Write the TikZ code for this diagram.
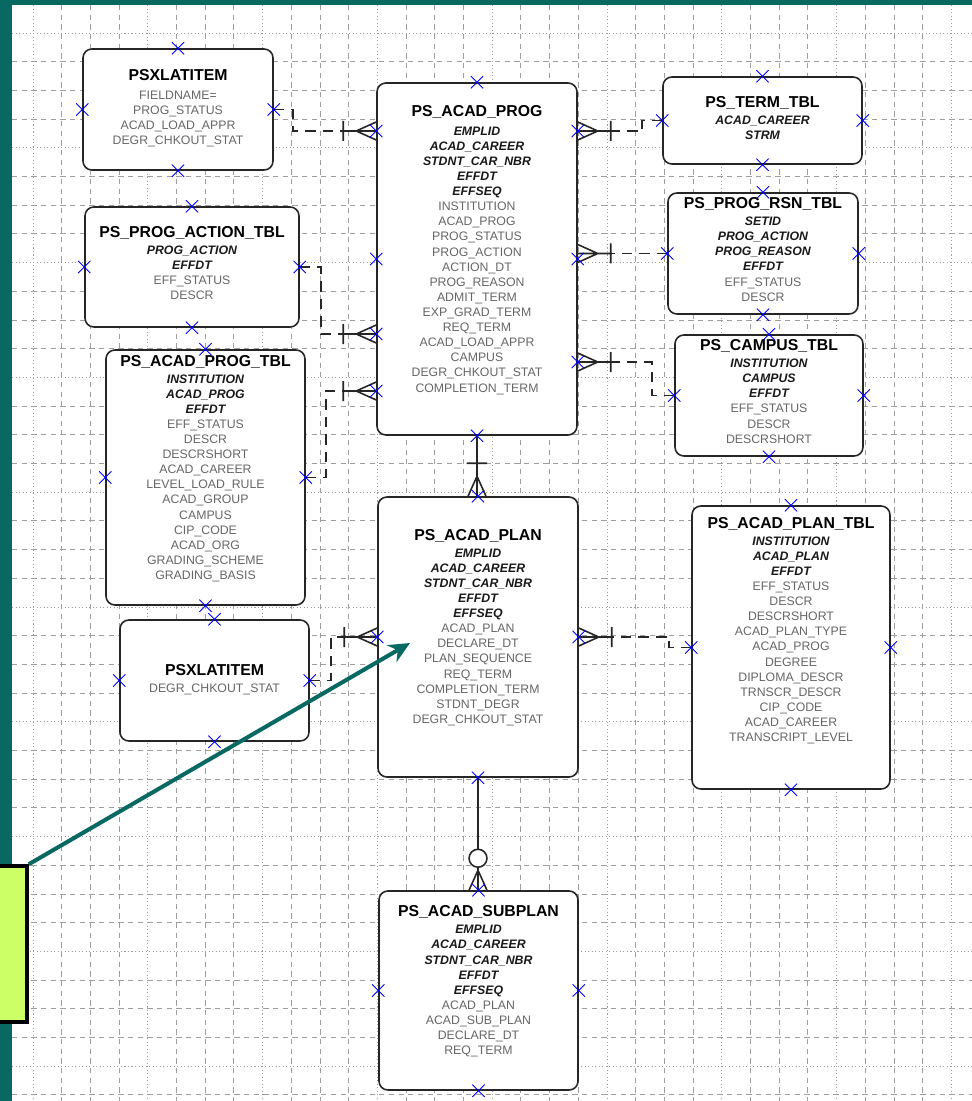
\documentclass[tikz,border=0pt]{standalone}
\usepackage{fontspec}
\setmainfont{Liberation Sans}
\usetikzlibrary{shapes.misc,arrows.meta,decorations.markings}
\definecolor{slide}{RGB}{8,104,98}
\definecolor{notefill}{RGB}{204,255,102}
\newcommand{\kf}[1]{{\bfseries\itshape\color{black!90}#1}}
\newcommand{\ttl}[1]{{\fontsize{9}{10}\selectfont\bfseries\color{black}#1}}

\begin{document}
\begin{tikzpicture}[x=0.02cm, y=-0.02cm]
      \tikzstyle{entity} = [rectangle, rounded corners=5pt, draw=black!85, line width=0.9pt, fill=white, inner sep=0pt, text=black!60, font=\fontsize{7}{8.6}\selectfont]
      \tikzstyle{xmark} = [cross out, draw=blue, line width=0.5pt, minimum size=6.5pt, inner sep=0pt]
      \tikzstyle{dashgrid} = [draw=black!38, line width=0.5pt, dash pattern=on 3pt off 2.5pt]
      \tikzstyle{dotgrid} = [draw=black!38, line width=0.5pt, dash pattern=on 0.6pt off 1.4pt]
      \tikzstyle{rel} = [draw=black!85, line width=0.9pt, dash pattern=on 6pt off 4pt]
      \tikzstyle{idrel} = [draw=black!85, line width=0.9pt]
      \tikzstyle{many} = [postaction={decorate, decoration={markings, mark=at position 1 with {
          \draw[solid, line width=0.9pt] (-33,-10) -- (-33,10) (-34,0) -- (0,0) (-20,0) -- (0,-9) (-20,0) -- (0,9);}}}]
      \tikzstyle{zeromany} = [postaction={decorate, decoration={markings, mark=at position 1 with {
          \draw[solid, line width=0.9pt, fill=white] (-32,0) circle (5.1pt);
          \draw[solid, line width=0.9pt] (-23,0) -- (0,0) (-20,0) -- (0,-9) (-20,0) -- (0,9);}}}]
      \tikzstyle{pointer} = [draw=slide, line width=2.3pt, -{Stealth[length=12pt, width=11pt]}]

      \useasboundingbox (0,0) rectangle (972,1101);
      \fill[slide] (0,0) rectangle (972,1101);
      \fill[white] (12,5) rectangle (972,1101);

      % grid
      \foreach \k in {0,...,32} {
        \pgfmathtruncatemacro{\m}{mod(\k,4)}
        \ifnum\m=0 \draw[dotgrid] (33+28.7*\k,5) -- (33+28.7*\k,1101);
        \else \draw[dashgrid] (33+28.7*\k,5) -- (33+28.7*\k,1101); \fi
      }
      \foreach \k in {0,...,37} {
        \pgfmathtruncatemacro{\m}{mod(\k,4)}
        \ifnum\m=0 \draw[dotgrid] (12,33+28.7*\k) -- (972,33+28.7*\k);
        \else \draw[dashgrid] (12,33+28.7*\k) -- (972,33+28.7*\k); \fi
      }

      \node (xlat1) [entity, minimum width=3.8cm, minimum height=2.42cm] at (178, 109.5) {\begin{tabular}{@{}c@{}}
        \ttl{PSXLATITEM}\\[2pt] FIELDNAME=\\ PROG\_STATUS\\ ACAD\_LOAD\_APPR\\ DEGR\_CHKOUT\_STAT
      \end{tabular}};
      \node (pat) [entity, minimum width=4.28cm, minimum height=2.4cm] at (192, 267) {\begin{tabular}{@{}c@{}}
        \ttl{PS\_PROG\_ACTION\_TBL}\\[1pt] \kf{PROG\_ACTION}\\ \kf{EFFDT}\\ EFF\_STATUS\\ DESCR\\[2pt]
      \end{tabular}};
      \node (aptbl) [entity, minimum width=3.98cm, minimum height=5.1cm] at (205.5, 477.5) {\begin{tabular}{@{}c@{}}
        \ttl{PS\_ACAD\_PROG\_TBL}\\[1pt] \kf{INSTITUTION}\\ \kf{ACAD\_PROG}\\ \kf{EFFDT}\\ EFF\_STATUS\\ DESCR\\
        DESCRSHORT\\ ACAD\_CAREER\\ LEVEL\_LOAD\_RULE\\ ACAD\_GROUP\\ CAMPUS\\ CIP\_CODE\\ ACAD\_ORG\\
        GRADING\_SCHEME\\ GRADING\_BASIS\\[9pt]
      \end{tabular}};
      \node (xlat2) [entity, minimum width=3.78cm, minimum height=2.42cm] at (214.5, 680.5) {\begin{tabular}{@{}c@{}}
        \ttl{PSXLATITEM}\\[1pt] DEGR\_CHKOUT\_STAT
      \end{tabular}};
      \node (prog) [entity, minimum width=4cm, minimum height=7.04cm] at (477, 259) {\begin{tabular}{@{}c@{}}
        \ttl{PS\_ACAD\_PROG}\\[2pt] \kf{EMPLID}\\ \kf{ACAD\_CAREER}\\ \kf{STDNT\_CAR\_NBR}\\ \kf{EFFDT}\\ \kf{EFFSEQ}\\
        INSTITUTION\\ ACAD\_PROG\\ PROG\_STATUS\\ PROG\_ACTION\\ ACTION\_DT\\ PROG\_REASON\\ ADMIT\_TERM\\
        EXP\_GRAD\_TERM\\ REQ\_TERM\\ ACAD\_LOAD\_APPR\\ CAMPUS\\ DEGR\_CHKOUT\_STAT\\ COMPLETION\_TERM\\[9pt]
      \end{tabular}};
      \node (term) [entity, minimum width=3.98cm, minimum height=1.74cm] at (762.5, 120.5) {\begin{tabular}{@{}c@{}}
        \ttl{PS\_TERM\_TBL}\\[1pt] \kf{ACAD\_CAREER}\\ \kf{STRM}
      \end{tabular}};
      \node (rsn) [entity, minimum width=3.8cm, minimum height=2.42cm] at (763, 253.5) {\begin{tabular}{@{}c@{}}
        \ttl{PS\_PROG\_RSN\_TBL}\\[1pt] \kf{SETID}\\ \kf{PROG\_ACTION}\\ \kf{PROG\_REASON}\\ \kf{EFFDT}\\ EFF\_STATUS\\ DESCR\\[2pt]
      \end{tabular}};
      \node (campus) [entity, minimum width=3.76cm, minimum height=2.42cm] at (769, 395.5) {\begin{tabular}{@{}c@{}}
        \ttl{PS\_CAMPUS\_TBL}\\[1pt] \kf{INSTITUTION}\\ \kf{CAMPUS}\\ \kf{EFFDT}\\ EFF\_STATUS\\ DESCR\\ DESCRSHORT\\[2pt]
      \end{tabular}};
      \node (plan) [entity, minimum width=4cm, minimum height=5.6cm] at (478, 637) {\begin{tabular}{@{}c@{}}
        \ttl{PS\_ACAD\_PLAN}\\[1pt] \kf{EMPLID}\\ \kf{ACAD\_CAREER}\\ \kf{STDNT\_CAR\_NBR}\\ \kf{EFFDT}\\ \kf{EFFSEQ}\\
        ACAD\_PLAN\\ DECLARE\_DT\\ PLAN\_SEQUENCE\\ REQ\_TERM\\ COMPLETION\_TERM\\ STDNT\_DEGR\\ DEGR\_CHKOUT\_STAT\\[9.6pt]
      \end{tabular}};
      \node (plantbl) [entity, minimum width=3.96cm, minimum height=5.66cm] at (791, 647.5) {\begin{tabular}{@{}c@{}}
        \ttl{PS\_ACAD\_PLAN\_TBL}\\[1pt] \kf{INSTITUTION}\\ \kf{ACAD\_PLAN}\\ \kf{EFFDT}\\ EFF\_STATUS\\ DESCR\\ DESCRSHORT\\
        ACAD\_PLAN\_TYPE\\ ACAD\_PROG\\ DEGREE\\ DIPLOMA\_DESCR\\ TRNSCR\_DESCR\\ CIP\_CODE\\ ACAD\_CAREER\\
        TRANSCRIPT\_LEVEL\\[18pt]
      \end{tabular}};
      \node (sub) [entity, minimum width=3.98cm, minimum height=3.98cm] at (478.5, 990.5) {\begin{tabular}{@{}c@{}}
        \ttl{PS\_ACAD\_SUBPLAN}\\[1pt] \kf{EMPLID}\\ \kf{ACAD\_CAREER}\\ \kf{STDNT\_CAR\_NBR}\\ \kf{EFFDT}\\ \kf{EFFSEQ}\\
        ACAD\_PLAN\\ ACAD\_SUB\_PLAN\\ DECLARE\_DT\\ REQ\_TERM\\[9pt]
      \end{tabular}};

      \coordinate (pw1) at (prog.west |- 0,131);
      \coordinate (pw3) at (prog.west |- 0,334);
      \coordinate (pw4) at (prog.west |- 0,391);
      \coordinate (pe1) at (prog.east |- 0,131);
      \coordinate (pe3) at (prog.east |- 0,362);

      \draw [rel, many] (xlat1.east) -- ++(19,0) |- (pw1);
      \draw [rel, many] (pat.east) -- ++(21,0) |- (pw3);
      \draw [rel, many] (aptbl.east) -- ++(20,0) |- (pw4);
      \draw [rel, many] (xlat2.east) -- ++(21,0) |- (plan.west);
      \draw [rel, many] (term.west) -- ++(-20,0) |- (pe1);
      \draw [rel, many] (rsn.west) -- (rsn.west -| prog.east);
      \draw [rel, many] (campus.west) -- ++(-22,0) |- (pe3);
      \draw [rel, many] (plantbl.west) -- ++(-22,0) |- (plan.east);
      \draw [idrel, many] (prog.south) -- (prog.south |- plan.north);
      \draw [idrel, zeromany] (plan.south) -- (plan.south |- sub.north);

      \foreach \b in {xlat1, pat, aptbl, xlat2, prog, term, rsn, campus, plan, plantbl, sub}
        \foreach \a in {north, south, east, west}
          \node (\b-\a-x) [xmark] at (\b.\a) {};
      \foreach \p in {pw1, pw3, pw4, pe1, pe3}
        \node (\p-x) [xmark] at (\p) {};

      \node (note) [draw=black, line width=2pt, fill=notefill, minimum width=0.6cm, minimum height=3.12cm, inner sep=0pt] at (12, 944) {};
      \coordinate (tgt) at (410, 643);
      \draw [pointer] (note.north east) -- (tgt);
\end{tikzpicture}
\end{document}
